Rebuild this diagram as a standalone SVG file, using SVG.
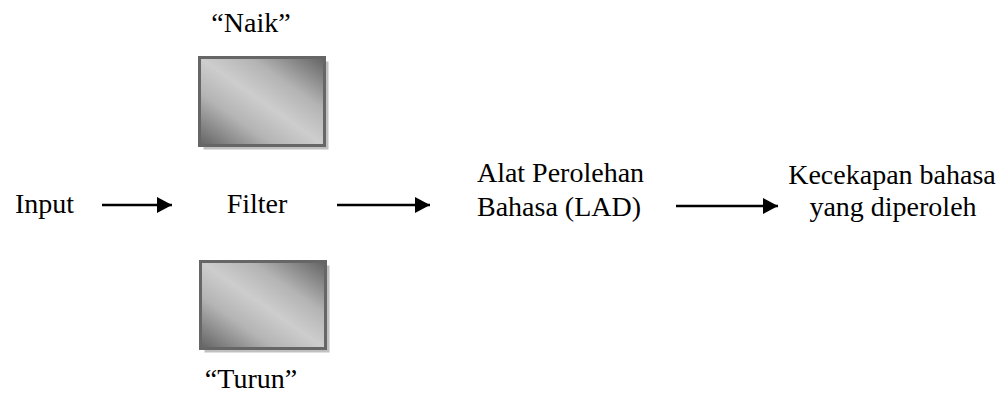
<svg xmlns="http://www.w3.org/2000/svg" width="1002" height="400" viewBox="0 0 1002 400">
<style>
.t{font-family:'Liberation Serif','Times New Roman','DejaVu Serif',serif;font-size:28px;fill:#000}
.shadow{fill:#c0c0c0}
.box{fill:url(#g);stroke:#666;stroke-width:3}
.conn{stroke:#000;stroke-width:2.5;fill:none;marker-end:url(#ah)}
</style>
<defs>
<linearGradient id="g" x1="1" y1="0" x2="0" y2="1">
<stop offset="0" stop-color="#626262"/>
<stop offset="0.3" stop-color="#b4b4b4"/>
<stop offset="0.5" stop-color="#cdcdcd"/>
<stop offset="0.7" stop-color="#b4b4b4"/>
<stop offset="1" stop-color="#626262"/>
</linearGradient>
<marker id="ah" markerUnits="userSpaceOnUse" markerWidth="16" markerHeight="16" refX="15" refY="8" orient="auto">
<path d="M0,0 L15,8 L0,16 Z" fill="#000"/>
</marker>
</defs>
<g id="naik">
<rect class="shadow" x="203.5" y="61.5" width="125" height="88"/>
<rect class="box" x="199.5" y="57.5" width="125" height="88"/>
<text class="t" x="251" y="32" text-anchor="middle">“Naik”</text>
</g>
<g id="turun">
<rect class="shadow" x="204.5" y="265.5" width="125" height="87"/>
<rect class="box" x="200.5" y="261.5" width="125" height="87"/>
<text class="t" x="251" y="388" text-anchor="middle">“Turun”</text>
</g>
<g id="input"><text class="t" x="15" y="213">Input</text></g>
<g id="filter"><text class="t" x="257" y="213" text-anchor="middle">Filter</text></g>
<g id="lad"><text class="t" x="560.5" y="182" text-anchor="middle">Alat Perolehan</text><text class="t" x="559" y="216" text-anchor="middle">Bahasa (LAD)</text></g>
<g id="kecekapan"><text class="t" x="892" y="184" text-anchor="middle">Kecekapan bahasa</text><text class="t" x="893" y="216" text-anchor="middle">yang diperoleh</text></g>
<g id="connectors">
<line class="conn" x1="102" y1="205" x2="172" y2="205"/>
<line class="conn" x1="337" y1="205" x2="430" y2="205"/>
<line class="conn" x1="676" y1="206" x2="778" y2="206"/>
</g>
</svg>
